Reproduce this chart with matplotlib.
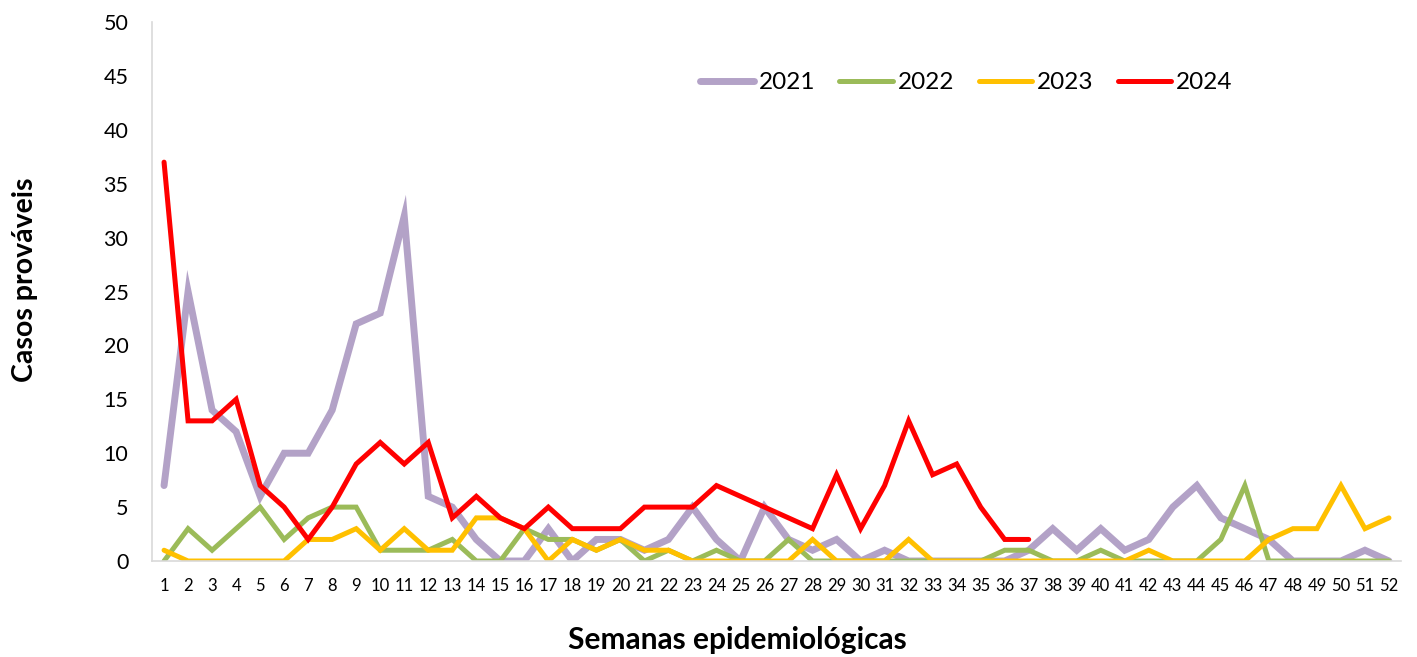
import matplotlib.pyplot as plt

plt.rcParams["font.family"] = ["Lato", "DejaVu Sans"]

weeks = list(range(1, 53))

cases_2021 = [7, 25, 14, 12, 6, 10, 10, 14, 22, 23, 32, 6, 5, 2, 0, 0, 3, 0, 2, 2,
              1, 2, 5, 2, 0, 5, 2, 1, 2, 0, 1, 0, 0, 0, 0, 0, 1, 3, 1, 3,
              1, 2, 5, 7, 4, 3, 2, 0, 0, 0, 1, 0]
cases_2022 = [0, 3, 1, 3, 5, 2, 4, 5, 5, 1, 1, 1, 2, 0, 0, 3, 2, 2, 1, 2,
              0, 1, 0, 1, 0, 0, 2, 0, 0, 0, 0, 0, 0, 0, 0, 1, 1, 0, 0, 1,
              0, 0, 0, 0, 2, 7, 0, 0, 0, 0, 0, 0]
cases_2023 = [1, 0, 0, 0, 0, 0, 2, 2, 3, 1, 3, 1, 1, 4, 4, 3, 0, 2, 1, 2,
              1, 1, 0, 0, 0, 0, 0, 2, 0, 0, 0, 2, 0, 0, 0, 0, 0, 0, 0, 0,
              0, 1, 0, 0, 0, 0, 2, 3, 3, 7, 3, 4]
cases_2024 = [37, 13, 13, 15, 7, 5, 2, 5, 9, 11, 9, 11, 4, 6, 4, 3, 5, 3, 3, 3,
              5, 5, 5, 7, 6, 5, 4, 3, 8, 3, 7, 13, 8, 9, 5, 2, 2]

series = [
    ("2021", cases_2021, "#B3A2C7", 5.0),
    ("2022", cases_2022, "#9BBB59", 3.6),
    ("2023", cases_2023, "#FFC000", 3.6),
    ("2024", cases_2024, "#FF0000", 3.6),
]

fig = plt.figure(figsize=(14.17, 6.57), dpi=100)
ax = fig.add_axes([0.1073, 0.1461, 0.8814, 0.8204])

for label, values, color, lw in series:
    ax.plot(weeks[:len(values)], values, color=color, linewidth=lw,
            label=label, solid_capstyle="round", solid_joinstyle="miter")

ax.set_xlim(0.5, 52.5)
ax.set_ylim(0, 50)
ax.set_xticks(weeks)
ax.set_yticks(range(0, 51, 5))
ax.tick_params(axis="x", length=0, labelsize=12, pad=12)
ax.tick_params(axis="y", length=0, labelsize=15.5, pad=17)

for side in ["top", "right"]:
    ax.spines[side].set_visible(False)
for side in ["left", "bottom"]:
    ax.spines[side].set_color("#D9D9D9")
    ax.spines[side].set_linewidth(1.2)

ax.set_ylabel("Casos prováveis", fontsize=20.5, fontweight="bold", va="center")
ax.yaxis.set_label_coords(-0.1017, 0.521)
ax.set_xlabel("Semanas epidemiológicas", fontsize=21.5, fontweight="bold", va="center")
ax.xaxis.set_label_coords(0.469, -0.147)

fig.legend(loc="center", bbox_to_anchor=(0.682, 0.874), ncol=4, frameon=False,
           fontsize=17.5, handlelength=2.2, handletextpad=0.2, columnspacing=1.0)

fig.savefig("out.png", dpi=100)
